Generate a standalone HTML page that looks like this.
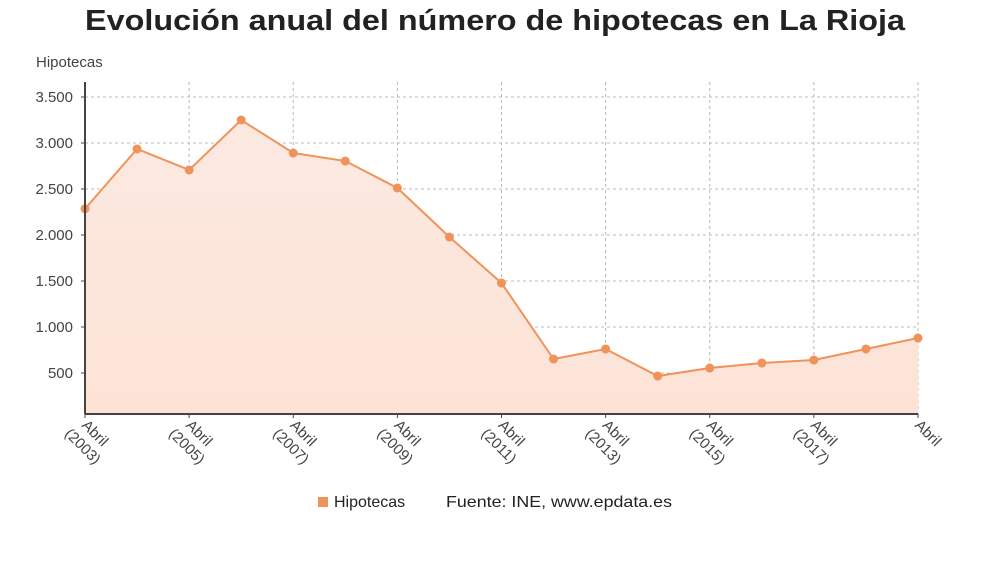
<!DOCTYPE html>
<html><head><meta charset="utf-8"><style>
body{margin:0;background:#fff;width:990px;height:556px;overflow:hidden;font-family:"Liberation Sans","DejaVu Sans",sans-serif}
</style></head><body>
<svg width="990" height="556" xmlns="http://www.w3.org/2000/svg">
<defs><linearGradient id="g" x1="0" y1="0" x2="0" y2="1"><stop offset="0" stop-color="#fbe9e1"/><stop offset="1" stop-color="#fde3d6"/></linearGradient></defs>
<text x="495" y="30" text-anchor="middle" font-size="29" font-weight="bold" fill="#222" textLength="820" lengthAdjust="spacingAndGlyphs">Evolución anual del número de hipotecas en La Rioja</text>
<text x="36" y="67" font-size="15" fill="#444">Hipotecas</text>
<g id="grid"></g><g id="area"></g><g id="line"></g><g id="axes"></g>
<g>
<rect x="318" y="497" width="10" height="10" fill="#f0935a"/>
<text x="334" y="507" font-size="16" fill="#222">Hipotecas</text>
<text x="446" y="507" font-size="16" fill="#222" textLength="226" lengthAdjust="spacingAndGlyphs">Fuente: INE, www.epdata.es</text>
</g>
</svg>
<script>
const years=[2003,2004,2005,2006,2007,2008,2009,2010,2011,2012,2013,2014,2015,2016,2017,2018,2019];
const values=[2285,2935,2707,3250,2891,2804,2511,1978,1478,652,761,467,554,609,641,761,880];
const yTicks=[500,1000,1500,2000,2500,3000,3500];
const yTickLabels=["500","1.000","1.500","2.000","2.500","3.000","3.500"];
const ns="http://www.w3.org/2000/svg";
const X0=85,X1=918,BASE=414;
const x=i=>X0+i*(X1-X0)/(years.length-1);
const y=v=>419-v*0.092;
function mk(t,a,p){const e=document.createElementNS(ns,t);for(const k in a)e.setAttribute(k,a[k]);p.appendChild(e);return e;}
const grid=document.getElementById('grid'),axes=document.getElementById('axes');
mk('rect',{x:X0,y:82,width:X1-X0,height:BASE-82,fill:'#fff'},grid);
yTicks.forEach((t,i)=>{
 const l=mk('line',{x1:X0,x2:X1,y1:y(t),y2:y(t),stroke:'#bbb','stroke-dasharray':'3,3'},grid);
 
 
 const tx=mk('text',{x:73,y:y(t)+5,'text-anchor':'end','font-size':15,fill:'#444'},axes);
 tx.textContent=yTickLabels[i];
 
 
 mk('line',{x1:X0-4,x2:X0,y1:y(t),y2:y(t),stroke:'#444'},axes);
});
years.forEach((yr,i)=>{
 if(i%2)return;
 const l=mk('line',{x1:x(i),x2:x(i),y1:82,y2:BASE,stroke:'#bbb','stroke-dasharray':'3,3'},grid);
 
 
 mk('line',{x1:x(i),x2:x(i),y1:BASE,y2:BASE+4,stroke:'#444'},axes);
 const g=mk('g',{transform:`translate(${x(i)-4},${BASE+12}) rotate(45)`},axes);
 
 
 const t1=mk('text',{x:0,y:0,'font-size':15,fill:'#444'},g);t1.textContent='Abril';
 if(i<years.length-1){const t2=mk('text',{x:-6,y:18,'font-size':15,fill:'#444'},g);t2.textContent='('+yr+')';}
});
let d=`M${X0},${BASE}`;values.forEach((v,i)=>d+=`L${x(i)},${y(v)}`);d+=`L${X1},${BASE}Z`;
const a=mk('path',{d,fill:'url(#g)'},document.getElementById('area'));


const ln=document.getElementById('line');
const pl=mk('polyline',{points:values.map((v,i)=>x(i)+','+y(v)).join(' '),fill:'none',stroke:'#f0935a','stroke-width':2},ln);


values.forEach((v,i)=>{
 const c=mk('circle',{cx:x(i),cy:y(v),r:4.5,fill:'#f0935a'},ln);
 
 
});
mk('line',{x1:X0,x2:X0,y1:82,y2:BASE,stroke:'#444','stroke-width':2},axes);
mk('line',{x1:X0,x2:X1,y1:BASE,y2:BASE,stroke:'#444','stroke-width':2},axes);
</script>
</body></html>
